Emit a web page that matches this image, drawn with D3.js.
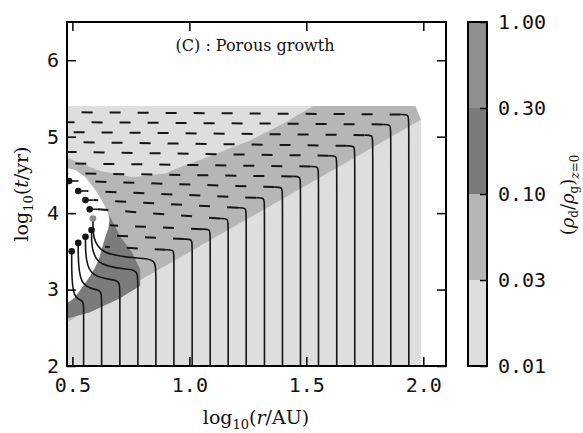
<!DOCTYPE html>
<html>
<head>
<meta charset="utf-8">
<script src="https://cdn.jsdelivr.net/npm/d3@7"></script>
<style>
body { margin: 0; background: #fff; }
</style>
</head>
<body>
<div id="chart"></div>
<script>
var width = 583;
var height = 433;

// tick labels
var xTicks = [0.5, 1.0, 1.5, 2.0];
var yTicks = [2, 3, 4, 5, 6];

// dust-to-gas levels of the filled contours (colour bar)
var levels = [0.01, 0.03, 0.10, 0.30, 1.00];
var levelGreys = ['#dedede', '#b6b6b6', '#7b7b7b', '#8f8f8f'];

// filled regions, points are [log10 r, log10 t]
var regionLow = [[0.477, 2], [1.99, 2], [1.99, 5.22], [1.966, 5.40], [0.477, 5.40]];
var regionBand = [[0.477, 2.575], [1.99, 5.22], [1.966, 5.40], [1.53, 5.40], [1.40, 5.17],
  [1.26, 4.95], [1.05, 4.70], [0.96, 4.60], [0.90, 4.52], [0.76, 4.47], [0.62, 4.55], [0.477, 4.72]];
var regionHigh = [[0.477, 2.62], [0.573, 2.70], [0.70, 2.88], [0.79, 3.05], [0.79, 3.26],
  [0.756, 3.48], [0.705, 3.69], [0.669, 3.91], [0.655, 3.98], [0.60, 3.90], [0.50, 3.40], [0.477, 3.0]];
var regionEmpty = [[0.477, 4.590], [0.512, 4.564], [0.555, 4.473], [0.598, 4.303], [0.624, 4.172],
  [0.641, 4.080], [0.654, 3.989], [0.658, 3.910], [0.654, 3.805], [0.641, 3.688], [0.628, 3.557],
  [0.615, 3.413], [0.598, 3.295], [0.576, 3.178], [0.555, 3.086], [0.534, 2.994], [0.512, 2.903],
  [0.491, 2.850], [0.477, 2.824]];

// particle tracks: start radius, time where drift starts, end point
var trackStart = [0.548, 0.625, 0.703, 0.780, 0.857, 0.934, 1.012, 1.089, 1.166, 1.243,
  1.321, 1.398, 1.475, 1.552, 1.630, 1.707, 1.784, 1.861, 1.938];
var trackHook = [2.77, 2.91, 3.04, 3.18, 3.32, 3.45, 3.59, 3.72, 3.86, 4.00,
  4.13, 4.27, 4.41, 4.54, 4.68, 4.81, 4.95, 5.09, 5.22];
var trackEndX = [0.497, 0.525, 0.556, 0.582, 0.588, 0.640, 0.650, 0.660, 0.574, 0.556,
  0.525, 0.486, 0.477, 0.477, 0.477, 0.477, 0.477, 0.477, 0.477];
var trackEndY = [3.50, 3.61, 3.69, 3.78, 3.93, 3.56, 3.71, 3.84, 4.05, 4.17,
  4.29, 4.42, 4.52, 4.65, 4.80, 4.93, 5.06, 5.19, 5.32];
var trackKind = ['settle', 'settle', 'settle', 'settle', 'settle', 'cut', 'cut', 'cut',
  'dot', 'dot', 'dot', 'dot', 'edge', 'edge', 'edge', 'edge', 'edge', 'edge', 'edge'];

var plot = {left: 67, right: 446, top: 22, bottom: 366};

var svg = d3.select('#chart').append('svg')
  .attr('width', width).attr('height', height)
  .style('font-family', 'DejaVu Sans Mono');

var x = d3.scaleLinear().domain([0.477, 2.097]).range([plot.left, plot.right]);
var y = d3.scaleLinear().domain([2, 6.5]).range([plot.bottom, plot.top]);

svg.append('clipPath').attr('id', 'clip').append('rect')
  .attr('x', plot.left).attr('y', plot.top)
  .attr('width', plot.right - plot.left).attr('height', plot.bottom - plot.top);

var g = svg.append('g').attr('clip-path', 'url(#clip)');

var poly = d3.line().x(function(d) { return x(d[0]); }).y(function(d) { return y(d[1]); })
  .curve(d3.curveLinearClosed);
var line = d3.line().x(function(d) { return x(d[0]); }).y(function(d) { return y(d[1]); });
var bend = d3.line().x(function(d) { return x(d[0]); }).y(function(d) { return y(d[1]); })
  .curve(d3.curveBasis);

// filled contours
g.append('path').attr('d', poly(regionLow)).attr('fill', levelGreys[0]);
g.append('path').attr('d', poly(regionBand)).attr('fill', levelGreys[1]);
g.append('path').attr('d', poly(regionHigh)).attr('fill', levelGreys[2]);
g.append('path').attr('d', poly(regionEmpty)).attr('fill', '#fff');

// tracks
var ink = '#151515';
trackStart.forEach(function(x0, i) {
  var yh = trackHook[i], xe = trackEndX[i], ye = trackEndY[i], kind = trackKind[i];

  if (kind === 'settle') {
    var lift = 0.1;
    g.append('path')
      .attr('d', bend([[x0, 2], [x0, yh], [x0, yh + lift], [xe, yh + lift], [xe, ye]]))
      .attr('fill', 'none').attr('stroke', ink).attr('stroke-width', 1.6);
  } else {
    var turn = [x0 - 0.035, yh + 0.07];
    g.append('path')
      .attr('d', bend([[x0, 2], [x0, yh], [x0, yh + 0.07], turn]))
      .attr('fill', 'none').attr('stroke', ink).attr('stroke-width', 1.6);

    var stop = kind === 'dot' ? [xe + 0.035, ye] : [xe, ye];
    g.append('path')
      .attr('d', line([turn, stop]))
      .attr('fill', 'none').attr('stroke', ink).attr('stroke-width', 2)
      .attr('stroke-dasharray', '11,17');

    if (kind === 'dot') {
      g.append('path').attr('d', line([stop, [xe, ye]]))
        .attr('fill', 'none').attr('stroke', ink).attr('stroke-width', 1.6);
    }
  }

  if (kind === 'settle' || kind === 'dot') {
    g.append('circle')
      .attr('cx', x(xe)).attr('cy', y(ye)).attr('r', 3.3)
      .attr('fill', i === 4 ? '#8a8a8a' : ink);
  }
});

// axes, ticks pointing inwards
var fontSize = '20px';
var xAxis = svg.append('g').attr('transform', 'translate(0,' + plot.bottom + ')')
  .call(d3.axisBottom(x).tickValues(xTicks).tickSize(-9).tickPadding(12).tickFormat(d3.format('.1f')));
var xTop = svg.append('g').attr('transform', 'translate(0,' + plot.top + ')')
  .call(d3.axisTop(x).tickValues(xTicks).tickSize(-9).tickFormat(''));
var yAxis = svg.append('g').attr('transform', 'translate(' + plot.left + ',0)')
  .call(d3.axisLeft(y).tickValues(yTicks).tickSize(-9).tickPadding(8).tickFormat(d3.format('d')));
var yRight = svg.append('g').attr('transform', 'translate(' + plot.right + ',0)')
  .call(d3.axisRight(y).tickValues(yTicks).tickSize(-9).tickFormat(''));

[xAxis, xTop, yAxis, yRight].forEach(function(a) {
  a.select('.domain').remove();
  a.selectAll('line').attr('stroke', '#000').attr('stroke-width', 1.5);
  a.selectAll('text').attr('font-family', 'DejaVu Sans Mono').attr('font-size', fontSize).attr('fill', '#111');
});

svg.append('rect')
  .attr('x', plot.left).attr('y', plot.top)
  .attr('width', plot.right - plot.left).attr('height', plot.bottom - plot.top)
  .attr('fill', 'none').attr('stroke', '#000').attr('stroke-width', 2);

// panel title
svg.append('text')
  .attr('x', 255).attr('y', 51).attr('text-anchor', 'middle')
  .attr('font-family', 'DejaVu Serif').attr('font-size', '16px').attr('fill', '#111')
  .text('(C) : Porous growth');

// axis titles
var xt = svg.append('text')
  .attr('x', 256).attr('y', 424).attr('text-anchor', 'middle')
  .attr('font-family', 'DejaVu Serif').attr('font-size', '19px').attr('fill', '#111');
xt.append('tspan').text('log');
xt.append('tspan').attr('font-size', '13px').attr('dy', 5).text('10');
xt.append('tspan').attr('dy', -5).text('(');
xt.append('tspan').attr('font-style', 'italic').text('r');
xt.append('tspan').text('/AU)');

var yt = svg.append('text')
  .attr('transform', 'translate(28,194) rotate(-90)').attr('text-anchor', 'middle')
  .attr('font-family', 'DejaVu Serif').attr('font-size', '19px').attr('fill', '#111');
yt.append('tspan').text('log');
yt.append('tspan').attr('font-size', '13px').attr('dy', 5).text('10');
yt.append('tspan').attr('dy', -5).text('(');
yt.append('tspan').attr('font-style', 'italic').text('t');
yt.append('tspan').text('/yr)');

// colour bar
var bar = {left: 468, right: 487};
var c = d3.scalePoint().domain(levels).range([plot.bottom, plot.top]);

svg.selectAll('.cbar').data(levels.slice(0, -1)).enter().append('rect')
  .attr('x', bar.left).attr('width', bar.right - bar.left)
  .attr('y', function(d, i) { return c(levels[i + 1]); })
  .attr('height', function(d, i) { return c(d) - c(levels[i + 1]); })
  .attr('fill', function(d, i) { return levelGreys[i]; });

var cAxis = svg.append('g').attr('transform', 'translate(' + bar.right + ',0)')
  .call(d3.axisRight(c).tickSize(-7).tickPadding(11).tickFormat(d3.format('.2f')));
cAxis.select('.domain').remove();
cAxis.selectAll('line').attr('stroke', '#000').attr('stroke-width', 1.5);
cAxis.selectAll('text').attr('font-family', 'DejaVu Sans Mono').attr('font-size', fontSize).attr('fill', '#111');

svg.append('rect')
  .attr('x', bar.left).attr('y', plot.top)
  .attr('width', bar.right - bar.left).attr('height', plot.bottom - plot.top)
  .attr('fill', 'none').attr('stroke', '#000').attr('stroke-width', 2);

var ct = svg.append('text')
  .attr('transform', 'translate(574,195) rotate(-90)').attr('text-anchor', 'middle')
  .attr('font-family', 'DejaVu Serif').attr('font-size', '18px').attr('fill', '#111');
ct.append('tspan').text('(');
ct.append('tspan').attr('font-style', 'italic').text('ρ');
ct.append('tspan').attr('font-size', '12px').attr('dy', 4).text('d');
ct.append('tspan').attr('dy', -4).text('/');
ct.append('tspan').attr('font-style', 'italic').text('ρ');
ct.append('tspan').attr('font-size', '12px').attr('dy', 4).text('g');
ct.append('tspan').attr('dy', -4).text(')');
ct.append('tspan').attr('font-size', '12px').attr('dy', 5).attr('font-style', 'italic').text('z');
ct.append('tspan').attr('font-size', '12px').text('=0');
</script>
</body>
</html>
